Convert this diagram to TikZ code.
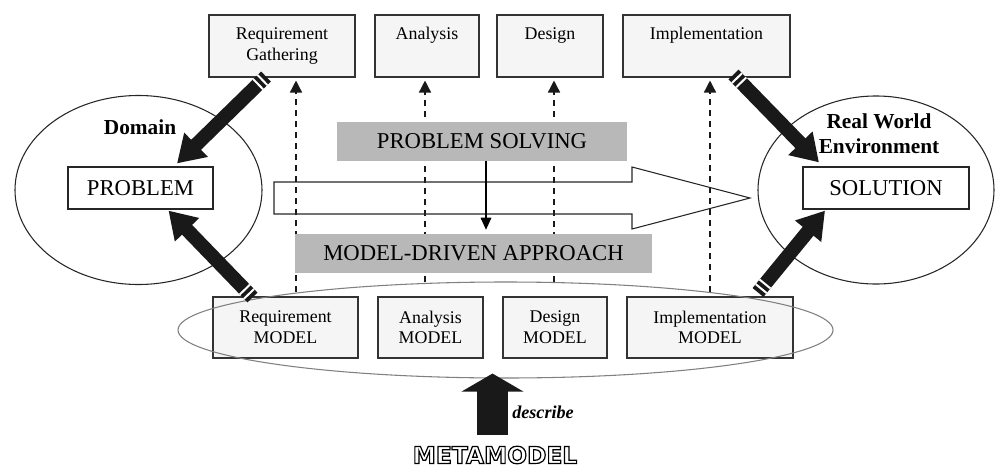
\documentclass[tikz,border=0pt]{standalone}
\usepackage{fontspec}
\setmainfont{Liberation Serif}
\newfontfamily\metafont{DejaVu Sans}
\newcommand\outlinetext[1]{\special{pdf:literal direct q 1 Tr 0.9 w}#1\special{pdf:literal direct Q}}
\usetikzlibrary{arrows.meta,shapes.geometric,calc,decorations.markings}
\tikzset{
  smallbox/.style={draw=black!80, fill=black!4, line width=0.8pt, align=center,
    font=\fontsize{13.4}{15.5}\selectfont, inner sep=0pt},
  topbox/.style={smallbox, minimum height=46.5pt},
  botbox/.style={smallbox, minimum height=45.75pt},
  bigbox/.style={draw=black!85, fill=white, line width=0.9pt, minimum height=31.5pt,
    font=\fontsize{17}{20}\selectfont, inner sep=0pt},
  graybox/.style={fill=black!28, minimum height=29.25pt,
    font=\fontsize{17}{20}\selectfont, inner sep=0pt},
  world/.style={ellipse, draw=black!85, line width=0.8pt, inner sep=0pt},
  dasharr/.style={draw=black!90, line width=1.1pt, dash pattern=on 4.5pt off 3.75pt,
    -{Triangle[width=9pt,length=9pt]}},
  solidarr/.style={draw=black, line width=0.8pt, -{Triangle[width=8pt,length=9pt]}},
  stripe/.style={-, draw=white, line width=1.5pt},
  fatarrow/.style={draw=black!90, line width=10.5pt, -{Triangle[width=24pt,length=20pt]},
    postaction={decorate, decoration={markings,
      mark=at position 3.75pt with {\draw[stripe] (0pt,-5.3pt) -- (0pt,5.3pt);},
      mark=at position 8.25pt with {\draw[stripe] (0pt,-5.3pt) -- (0pt,5.3pt);}}}},
  bigup/.style={draw=black!90, line width=23.25pt, -{Triangle[width=45.75pt,length=13.5pt]}},
  lbl/.style={inner sep=0pt}
}
\begin{document}
\begin{tikzpicture}[x=0.75pt,y=-0.75pt]
\useasboundingbox (0,0) rectangle (996,468);

% domain ellipses
\node[world, minimum width=185.25pt, minimum height=141.75pt] (dom) at (138.5,190) {};
\node[world, minimum width=177pt, minimum height=141pt] (env) at (876,190) {};

% process boxes
\node[topbox, minimum width=109.5pt] (rg) at (282,46) {Requirement\\Gathering};
\node[topbox, minimum width=78pt] (an) at (427,46) {Analysis\\\phantom{Gg}};
\node[topbox, minimum width=79.5pt] (de) at (550,46) {Design\\\phantom{Gg}};
\node[topbox, minimum width=125.25pt] (im) at (706.5,46) {Implementation\\\phantom{Gg}};

\node[botbox, minimum width=108.75pt] (rm) at (285.5,327.5) {Requirement\\MODEL};
\node[botbox, minimum width=78.75pt] (am) at (430.5,327.5) {Analysis\\MODEL};
\node[botbox, minimum width=78pt] (dm) at (555,327.5) {Design\\MODEL};
\node[botbox, minimum width=124.5pt] (imm) at (710,327.5) {Implementation\\MODEL};

% dashed arrows (under the gray bars)
\draw[dasharr] ($(rm.north)+(10.5,-4)$) -- ($(rg.south)+(14,3)$);
\draw[dasharr] ($(am.north)+(-5.5,-14)$) -- ($(an.south)+(-2,3)$);
\draw[dasharr] ($(dm.north)+(-1,-14.5)$) -- ($(de.south)+(4,3)$);
\draw[dasharr] ($(imm.north)+(0,-4.5)$) -- ($(im.south)+(3.5,3)$);

% hollow arrow
\draw[draw=black!85, line width=0.8pt] (274,182) -- (632,182) -- (632,167) -- (750,198)
  -- (632,229) -- (632,214) -- (274,214) -- cycle;

% gray bars
\node[graybox, minimum width=217.5pt] (ps) at (482,141.5) {PROBLEM SOLVING};
\node[graybox, minimum width=267.75pt] (md) at (473.5,253.5) {MODEL-DRIVEN APPROACH};
\draw[solidarr] ($(ps.south)+(4,0)$) -- ($(md.north)+(12.5,-4)$);

% problem / solution
\node[bigbox, minimum width=108.75pt] (problem) at (140.5,188) {PROBLEM};
\node[bigbox, minimum width=124.5pt] (solution) at (886,188) {SOLUTION};
\node[lbl, font=\bfseries\fontsize{16}{19}\selectfont] (dl) at (140,127) {Domain};
\node[lbl, align=center, font=\bfseries\fontsize{16}{19}\selectfont] (rwl) at (879,134) {Real World\\Environment};

% bottom ellipse over the model boxes
\node[ellipse, draw=black!50, line width=0.8pt, inner sep=0pt,
  minimum width=491.25pt, minimum height=72pt] (bot) at (505.5,330) {};

% fat arrows
\draw[fatarrow] ($(rg.south)+(-16,-1)$) -- ($(problem.north)+(36.5,-3)$);
\draw[fatarrow] ($(rm.north)+(-33,1)$) -- ($(problem.south)+(28,1)$);
\draw[fatarrow] ($(im.south)+(27,-3)$) -- ($(solution.north)+(-67,-4)$);
\draw[fatarrow] ($(imm.north)+(48,-4)$) -- ($(solution.south)+(-61,1)$);

% metamodel
\node[lbl, font=\metafont\bfseries\fontsize{17.5}{20}\selectfont] (meta) at (495,455)
  {\outlinetext{METAMODEL}};
\draw[bigup] ($(meta.north)+(-2.5,-11)$) -- ($(bot.south)+(-13,-5)$);
\node[lbl, font=\bfseries\itshape\fontsize{13.6}{16}\selectfont] (desc) at (543,412) {describe};
\end{tikzpicture}
\end{document}
